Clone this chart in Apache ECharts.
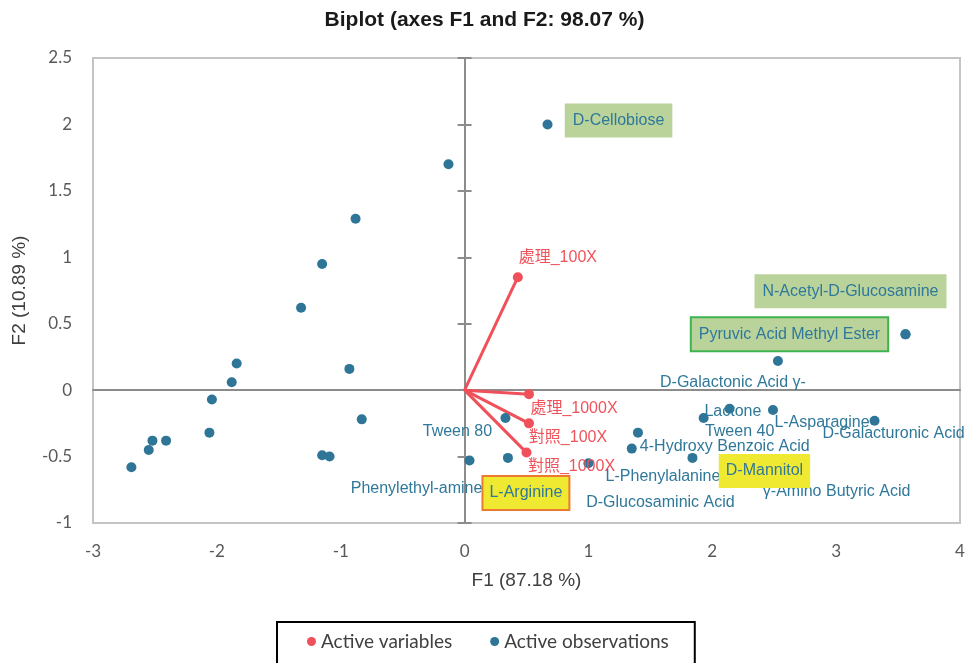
<!DOCTYPE html>
<html>
<head>
<meta charset="utf-8">
<script src="https://cdn.jsdelivr.net/npm/echarts@6/dist/echarts.min.js"></script>
<style>
html,body{margin:0;padding:0;background:#fff;}
.box{width:969px;height:663px;}
</style>
</head>
<body>
<div class="box"></div>
<script>
// axis ticks
var xTicks = [-3, -2, -1, 0, 1, 2, 3, 4];
var yTicks = [-1, -0.5, 0, 0.5, 1, 1.5, 2, 2.5];

// active variables (vectors from origin)
var varNames = ["處理_100X", "處理_1000X", "對照_100X", "對照_1000X"];
var varX = [0.43, 0.52, 0.52, 0.50];
var varY = [0.85, -0.03, -0.25, -0.47];

// active observations
var obsNames = [
    "", "", "", "", "", "", "", "", "", "", "", "", "", "", "", "",
    "D-Cellobiose", "Pyruvic Acid Methyl Ester", "N-Acetyl-D-Glucosamine",
    "D-Galactonic Acid γ-Lactone", "γ-Amino Butyric Acid", "Tween 40",
    "L-Asparagine", "D-Galacturonic Acid", "L-Phenylalanine",
    "4-Hydroxy Benzoic Acid", "D-Mannitol", "D-Glucosaminic Acid",
    "L-Arginine", "Phenylethyl-amine", "Tween 80"
];
var obsX = [
    -0.13, -0.88, -1.15, -1.32, -1.84, -1.88, -0.93, -2.04, -0.83, -2.06, -2.41, -2.52, -2.55, -2.69, -1.15, -1.09,
    0.67, 3.56, 3.56, 2.53, 2.14, 1.93, 2.49, 3.31, 1.40, 1.35, 1.84, 1.00, 0.35, 0.04, 0.33
];
var obsY = [
    1.70, 1.29, 0.95, 0.62, 0.20, 0.06, 0.16, -0.07, -0.22, -0.32, -0.38, -0.38, -0.45, -0.58, -0.49, -0.50,
    2.00, 0.42, 0.42, 0.22, -0.14, -0.21, -0.15, -0.23, -0.32, -0.44, -0.51, -0.55, -0.51, -0.53, -0.21
];

// label placement (pixels from the point) and boxes
var boxes = {
    green: {backgroundColor: "#b9d39b", padding: [9, 8]},
    greenLine: {backgroundColor: "#b9d39b", padding: [8, 7], borderColor: "#3fb34f", borderWidth: 2},
    yellow: {backgroundColor: "#f0e932", padding: [9, 7]},
    yellowLine: {backgroundColor: "#f0e932", padding: [8, 6], borderColor: "#ee7a30", borderWidth: 2}
};
var labelPlace = {
    "D-Cellobiose": {offset: [71, -4], box: "green"},
    "Pyruvic Acid Methyl Ester": {offset: [-116, 0], box: "greenLine"},
    "N-Acetyl-D-Glucosamine": {offset: [-55, -43], box: "green"},
    "D-Galactonic Acid γ-Lactone": {offset: [-45, 36], text: "D-Galactonic Acid γ-\nLactone", lineHeight: 29},
    "γ-Amino Butyric Acid": {offset: [107, 83]},
    "Tween 40": {offset: [36, 14]},
    "L-Asparagine": {offset: [49, 13]},
    "D-Galacturonic Acid": {offset: [19, 13]},
    "L-Phenylalanine": {offset: [25, 44]},
    "4-Hydroxy Benzoic Acid": {offset: [93, -2]},
    "D-Mannitol": {offset: [72, 13], box: "yellow"},
    "D-Glucosaminic Acid": {offset: [72, 39]},
    "L-Arginine": {offset: [18, 35], box: "yellowLine"},
    "Phenylethyl-amine": {offset: [-53, 28]},
    "Tween 80": {offset: [-48, 14]}
};
var varOffsets = [[40, -20], [45, 14], [39, 14], [45, 14]];

var blue = "#2e7597";
var red = "#f0505a";

var obsData = obsX.map(function (x, i) {
    var name = obsNames[i];
    var item = {value: [x, obsY[i]], name: name};
    if (name) {
        var p = labelPlace[name];
        var lab = {
            show: true,
            position: "inside",
            offset: p.offset,
            formatter: p.text || name,
            color: "#2f789a",
            fontFamily: "Liberation Sans",
            fontSize: 16
        };
        if (p.lineHeight) lab.lineHeight = p.lineHeight;
        if (p.box) Object.assign(lab, boxes[p.box]);
        item.label = lab;
    }
    return item;
});

var varData = varX.map(function (x, i) {
    return {
        value: [x, varY[i]],
        name: varNames[i],
        label: {
            show: true,
            position: "inside",
            offset: varOffsets[i],
            formatter: varNames[i],
            color: "#f0525b",
            fontFamily: "Liberation Sans, Noto Sans CJK TC",
            fontSize: 16
        }
    };
});

var vectorSeries = varX.map(function (x, i) {
    return {
        type: "line",
        name: "vec" + i,
        data: [[0, 0], [x, varY[i]]],
        symbol: "none",
        silent: true,
        lineStyle: {color: red, width: 3},
        z: 3
    };
});

var tickFont = {fontFamily: "Lato", fontSize: 17, color: "#595959"};

let mycharts = echarts.init(document.querySelector(".box"));
mycharts.setOption({
    backgroundColor: "#fff",
    animation: false,
    title: {
        text: "Biplot (axes F1 and F2: 98.07 %)",
        left: "center",
        top: 5,
        textStyle: {fontFamily: "Liberation Sans", fontWeight: "bold", fontSize: 21, color: "#1a1a1a"}
    },
    legend: {
        data: ["Active variables", "Active observations"],
        left: 277,
        top: 622,
        icon: "circle",
        itemWidth: 9,
        itemHeight: 9,
        itemGap: 38,
        padding: [10, 26, 22, 30],
        borderColor: "#000",
        borderWidth: 2,
        textStyle: {fontFamily: "Lato", fontSize: 19, color: "#404040"}
    },
    grid: {
        left: 93, right: 9, top: 58, bottom: 140,
        show: true,
        borderColor: "#c4c4c4",
        borderWidth: 2
    },
    xAxis: [{
        type: "value",
        min: xTicks[0],
        max: xTicks[xTicks.length - 1],
        interval: 1,
        name: "F1 (87.18 %)",
        nameLocation: "middle",
        nameGap: 48,
        nameTextStyle: {fontFamily: "Liberation Sans", fontSize: 19, color: "#404040"},
        axisLine: {show: false, onZero: false},
        axisTick: {show: false},
        splitLine: {show: false},
        axisLabel: Object.assign({margin: 20}, tickFont)
    }, {
        type: "value",
        position: "top",
        min: xTicks[0],
        max: xTicks[xTicks.length - 1],
        interval: 1,
        axisLine: {show: true, onZero: true, onZeroAxisIndex: 0, lineStyle: {color: "#8c8c8c", width: 2}},
        axisTick: {show: false},
        axisLabel: {show: false},
        splitLine: {show: false}
    }],
    yAxis: [{
        type: "value",
        min: yTicks[0],
        max: yTicks[yTicks.length - 1],
        interval: 0.5,
        name: "F2 (10.89 %)",
        nameLocation: "middle",
        nameGap: 64,
        nameTextStyle: {fontFamily: "Liberation Sans", fontSize: 19, color: "#404040"},
        axisLine: {show: false, onZero: false},
        axisTick: {show: false},
        splitLine: {show: false},
        axisLabel: Object.assign({margin: 21}, tickFont)
    }, {
        type: "value",
        position: "left",
        min: yTicks[0],
        max: yTicks[yTicks.length - 1],
        interval: 0.5,
        axisLine: {show: true, onZero: true, onZeroAxisIndex: 0, lineStyle: {color: "#8c8c8c", width: 2}},
        axisTick: {show: true, length: 7, lineStyle: {color: "#8c8c8c", width: 2}},
        axisLabel: {show: false},
        splitLine: {show: false}
    }, {
        type: "value",
        position: "right",
        min: yTicks[0],
        max: yTicks[yTicks.length - 1],
        interval: 0.5,
        axisLine: {show: false, onZero: true, onZeroAxisIndex: 1},
        axisTick: {show: true, length: 7, lineStyle: {color: "#8c8c8c", width: 2}},
        axisLabel: {show: false},
        splitLine: {show: false}
    }],
    series: vectorSeries.concat([
        {
            type: "scatter",
            name: "Active variables",
            data: varData,
            symbolSize: 10,
            itemStyle: {color: red, opacity: 1},
            z: 4
        },
        {
            type: "scatter",
            name: "Active observations",
            data: obsData,
            symbolSize: 10,
            itemStyle: {color: blue, opacity: 1},
            z: 4
        }
    ])
});
</script>
</body>
</html>
